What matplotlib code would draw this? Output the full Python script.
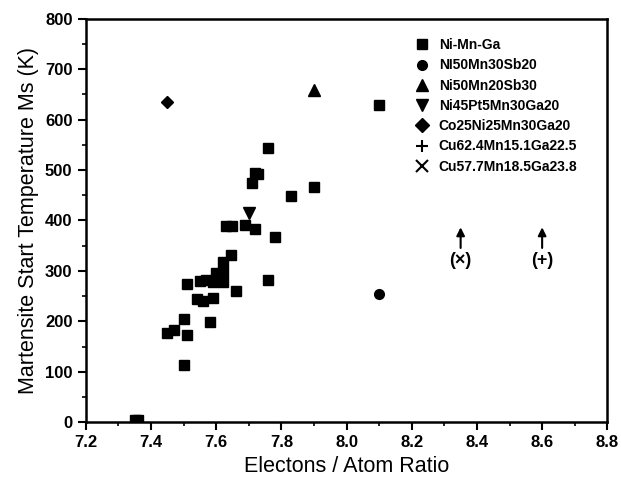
import matplotlib
matplotlib.use('Agg')
import matplotlib.pyplot as plt
from matplotlib.lines import Line2D
from matplotlib.ticker import MultipleLocator

plt.rcParams['font.family'] = ['Liberation Sans', 'DejaVu Sans']

# Ni-Mn-Ga data (e/a ratio, Ms in K)
nimnga_ea = [7.35, 7.36, 7.45, 7.47, 7.50, 7.50, 7.51, 7.51, 7.54, 7.55, 7.56, 7.57,
             7.58, 7.59, 7.59, 7.60, 7.62, 7.62, 7.62, 7.63, 7.645, 7.65, 7.66,
             7.69, 7.71, 7.72, 7.72, 7.73, 7.76, 7.76, 7.78, 7.83, 7.90, 8.10]
nimnga_ms = [5, 5, 176, 183, 113, 204, 173, 275, 244, 280, 240, 282,
             198, 277, 246, 295, 298, 317, 278, 390, 331, 390, 260,
             392, 475, 384, 495, 492, 543, 281, 368, 449, 467, 629]

sb20_ea, sb20_ms = [8.10], [255]
sb30_ea, sb30_ms = [7.90], [658]
pt_ea, pt_ms = [7.70], [414]
co_ea, co_ms = [7.45], [636]

# off-scale Cu alloys: arrows pointing up
cu_ea = [8.35, 8.60]
cu_labels = ['(\u00d7)', '(+)']

legend_labels = ['Ni-Mn-Ga', 'NI50Mn30Sb20', 'Ni50Mn20Sb30', 'Ni45Pt5Mn30Ga20',
                 'Co25Ni25Mn30Ga20', 'Cu62.4Mn15.1Ga22.5', 'Cu57.7Mn18.5Ga23.8']
legend_markers = ['s', 'o', '^', 'v', 'D', '+', 'x']

fig = plt.figure(figsize=(6.21, 4.83), dpi=100)
ax = fig.add_axes([0.138, 0.126, 0.840, 0.835])

ax.plot(nimnga_ea, nimnga_ms, 's', color='black', ms=7, ls='none')
ax.plot(sb20_ea, sb20_ms, 'o', color='black', ms=7, ls='none')
ax.plot(sb30_ea, sb30_ms, '^', color='black', ms=8, ls='none')
ax.plot(pt_ea, pt_ms, 'v', color='black', ms=8, ls='none')
ax.plot(co_ea, co_ms, 'D', color='black', ms=6, ls='none')

for x, lab in zip(cu_ea, cu_labels):
    ax.annotate('', xy=(x, 392), xytext=(x, 340),
                arrowprops=dict(arrowstyle='-|>', color='black', lw=1.5,
                                mutation_scale=12))
    ax.text(x, 320, lab, ha='center', va='center', fontsize=13, fontweight='bold')

handles = []
for m in legend_markers:
    sz = 7 if m in ('s', 'o', 'D') else 8
    handles.append(Line2D([], [], marker=m, color='black', ls='none', ms=sz,
                          markeredgewidth=1.5 if m in ('+', 'x') else 1))
leg = ax.legend(handles, legend_labels, loc='upper left', bbox_to_anchor=(0.605, 0.983),
                frameon=False, handletextpad=0.6, labelspacing=0.45,
                prop={'size': 10, 'weight': 'bold'}, handlelength=1.2)

ax.set_xlim(7.2, 8.8)
ax.set_ylim(0, 800)
ax.xaxis.set_major_locator(MultipleLocator(0.2))
ax.xaxis.set_minor_locator(MultipleLocator(0.1))
ax.yaxis.set_major_locator(MultipleLocator(100))
ax.yaxis.set_minor_locator(MultipleLocator(50))
ax.xaxis.set_major_formatter(plt.FormatStrFormatter('%.1f'))
ax.tick_params(which='major', direction='out', length=6, width=1.5, labelsize=12)
ax.tick_params(which='minor', direction='out', length=3, width=1.2)
for lab in ax.get_xticklabels() + ax.get_yticklabels():
    lab.set_fontweight('bold')
for s in ax.spines.values():
    s.set_linewidth(1.8)

ax.set_xlabel('Electons / Atom Ratio', fontsize=15.5)
ax.set_ylabel('Martensite Start Temperature Ms (K)', fontsize=15.5)

fig.savefig('out.png', dpi=100)
